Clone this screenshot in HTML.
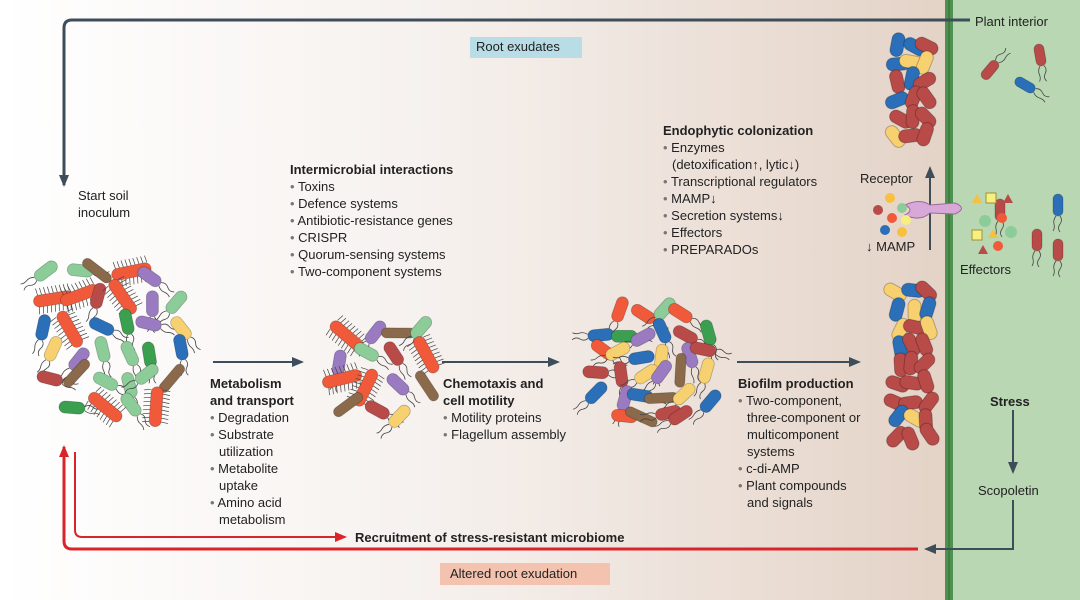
<!DOCTYPE html>
<html><head><meta charset="utf-8"><style>
body{margin:0;width:1080px;height:600px;overflow:hidden;font-family:"Liberation Sans",sans-serif;color:#222;}
#bg{position:absolute;left:0;top:0;width:1080px;height:600px;background:linear-gradient(90deg,#ffffff 0%,#f6f1ee 40%,#e4d3c7 87%);}
.t{position:absolute;font-size:13px;line-height:17px;white-space:nowrap;}
.b{font-weight:bold;}
.li:before{content:"• ";color:#777;}
.ind{padding-left:9px;}
svg{position:absolute;left:0;top:0;}
</style></head><body>
<div id="bg"></div>
<svg id="s" width="1080" height="600">
<defs>
<marker id="ag" markerUnits="userSpaceOnUse" markerWidth="12" markerHeight="10" refX="10" refY="5" orient="auto"><path d="M0,0 L12,5 L0,10z" fill="#3d4d5a"/></marker>
<marker id="ar" markerUnits="userSpaceOnUse" markerWidth="12" markerHeight="10" refX="10" refY="5" orient="auto"><path d="M0,0 L12,5 L0,10z" fill="#d9252a"/></marker>
</defs>
<rect x="948" y="0" width="132" height="600" fill="#b9d7b2"/>
<rect x="945" y="0" width="8" height="600" fill="#4f9150"/>
<line x1="949" y1="0" x2="949" y2="600" stroke="#2e6e33" stroke-width="1"/>
<path d="M970,20 H72 Q64,20 64,28 V185" fill="none" stroke="#3d4d5a" stroke-width="3" marker-end="url(#ag)"/>
<rect x="470" y="37" width="112" height="21" fill="#b9dde6"/>
<line x1="213" y1="362" x2="302" y2="362" stroke="#3d4d5a" stroke-width="2" marker-end="url(#ag)"/>
<line x1="442" y1="362" x2="558" y2="362" stroke="#3d4d5a" stroke-width="2" marker-end="url(#ag)"/>
<line x1="737" y1="362" x2="859" y2="362" stroke="#3d4d5a" stroke-width="2" marker-end="url(#ag)"/>
<line x1="930" y1="250" x2="930" y2="168" stroke="#3d4d5a" stroke-width="2" marker-end="url(#ag)"/>
<line x1="1013" y1="410" x2="1013" y2="472" stroke="#3d4d5a" stroke-width="2" marker-end="url(#ag)"/>
<path d="M1013,500 V549 H926" fill="none" stroke="#3d4d5a" stroke-width="2" marker-end="url(#ag)"/>
<path d="M918,549 H72 Q64,549 64,541 V447" fill="none" stroke="#d9252a" stroke-width="3" marker-end="url(#ar)"/>
<path d="M75,452 V530 Q75,537 82,537 H345" fill="none" stroke="#d9252a" stroke-width="2" marker-end="url(#ar)"/>
<rect x="440" y="563" width="170" height="22" fill="#f4c3b0"/>
<path d="M905,205 Q920,198 930,205 L955,203 Q968,208 955,214 L930,213 Q920,222 905,215 Q915,210 905,205z" fill="#d8a8d8" stroke="#9a6a9a" stroke-width="1"/>
<g id="b"></g>
</svg>
<div class="t" style="left:476px;top:38px">Root exudates</div>
<div class="t" style="left:450px;top:565px">Altered root exudation</div>
<div class="t" style="left:975px;top:13px">Plant interior</div>
<div class="t" style="left:78px;top:187px">Start soil<br>inoculum</div>
<div class="t" style="left:290px;top:161px"><span class="b">Intermicrobial interactions</span><br><span class="li">Toxins</span><br><span class="li">Defence systems</span><br><span class="li">Antibiotic-resistance genes</span><br><span class="li">CRISPR</span><br><span class="li">Quorum-sensing systems</span><br><span class="li">Two-component systems</span></div>
<div class="t" style="left:210px;top:375px"><span class="b">Metabolism<br>and transport</span><br><span class="li">Degradation</span><br><span class="li">Substrate</span><br><span class="ind">utilization</span><br><span class="li">Metabolite</span><br><span class="ind">uptake</span><br><span class="li">Amino acid</span><br><span class="ind">metabolism</span></div>
<div class="t" style="left:443px;top:375px"><span class="b">Chemotaxis and<br>cell motility</span><br><span class="li">Motility proteins</span><br><span class="li">Flagellum assembly</span></div>
<div class="t" style="left:738px;top:375px"><span class="b">Biofilm production</span><br><span class="li">Two-component,</span><br><span class="ind">three-component or</span><br><span class="ind">multicomponent</span><br><span class="ind">systems</span><br><span class="li">c-di-AMP</span><br><span class="li">Plant compounds</span><br><span class="ind">and signals</span></div>
<div class="t" style="left:663px;top:122px"><span class="b">Endophytic colonization</span><br><span class="li">Enzymes</span><br><span class="ind">(detoxification↑, lytic↓)</span><br><span class="li">Transcriptional regulators</span><br><span class="li">MAMP↓</span><br><span class="li">Secretion systems↓</span><br><span class="li">Effectors</span><br><span class="li">PREPARADOs</span></div>
<div class="t" style="left:860px;top:170px">Receptor</div>
<div class="t" style="left:866px;top:238px">↓ MAMP</div>
<div class="t" style="left:960px;top:261px">Effectors</div>
<div class="t b" style="left:990px;top:393px">Stress</div>
<div class="t" style="left:978px;top:482px">Scopoletin</div>
<div class="t b" style="left:355px;top:529px">Recruitment of stress-resistant microbiome</div>
<script>
var g=document.getElementById('b'),NS="http://www.w3.org/2000/svg";
var seed=12345;function r(){seed=(seed*16807)%2147483647;return seed/2147483647;}
for(var i=0;i<10;i++)r();
function add(tag,at,p){var e=document.createElementNS(NS,tag);for(var k in at)e.setAttribute(k,at[k]);(p||g).appendChild(e);return e;}
var C=['#2a6fb8','#3aa050','#8ccc98','#f7d070','#9a7ac0','#b84a48','#8a6a4a','#f05a3a'];
function bac(x,y,a,c,L,W,hair){
 var e=add('g',{transform:'translate('+x+','+y+') rotate('+a+')'});
 if(hair){for(var i=-L/2+3;i<L/2-2;i+=4){add('line',{x1:i,y1:-W/2,x2:i+1,y2:-(W/2+7),stroke:'#444','stroke-width':0.7},e);add('line',{x1:i,y1:W/2,x2:i+1,y2:W/2+7,stroke:'#444','stroke-width':0.7},e);}}
 else if(c!='#8a6a4a'){add('path',{d:'M'+(L/2)+',-2 q4,-3 8,0 t8,0 M'+(L/2)+',2 q4,3 8,2 t7,1',stroke:'#444',fill:'none','stroke-width':0.8},e);}
 add('rect',{x:-L/2,y:-W/2,width:L,height:W,rx:W/2,fill:c,stroke:'rgba(0,0,0,0.25)','stroke-width':0.8},e);
}
function cluster(cx,cy,R,sp,big){
 for(var y=cy-R;y<=cy+R;y+=sp)for(var x=cx-R;x<=cx+R;x+=sp){
  var dx=x-cx,dy=y-cy;if(dx*dx+dy*dy>R*R)continue;
  var px=x+(r()-0.5)*sp*0.5,py=y+(r()-0.5)*sp*0.5;
  var k=Math.floor(r()*8),c=C[k];
  if(k==7&&big) bac(px,py,r()*180,c,40,12,true);
  else if(k==6) bac(px,py,r()*180,c,34,10,false);
  else bac(px,py,r()*180,c,26,12,false);}
}
cluster(108,335,86,26,true);
cluster(378,363,60,27,true);
cluster(652,363,72,21,false);
function film(x0,y0,w,h,sp){for(var y=y0;y<=y0+h;y+=sp)for(var x=x0;x<=x0+w;x+=sp*0.8){var px=x+(r()-0.5)*6,py=y+(r()-0.5)*6;var q=r();var c=q<0.55?'#b84a48':(q<0.8?'#f7d070':'#2a6fb8');add('rect',{transform:'translate('+px+','+py+') rotate('+(r()*180)+')',x:-12,y:-6.5,width:24,height:13,rx:6.5,fill:c,stroke:'rgba(0,0,0,0.25)'});}}
film(898,45,38,100,18);film(898,292,38,145,18);
[[990,70,-50,'#b84a48'],[1040,55,80,'#b84a48'],[1025,85,30,'#2a6fb8'],[1000,210,90,'#b84a48'],[1058,205,90,'#2a6fb8'],[1037,240,90,'#b84a48'],[1058,250,90,'#b84a48']].forEach(function(a){bac(a[0],a[1],a[2],a[3],22,10,false);});
[[890,198,'#f7c040'],[902,208,'#8ccc98'],[878,210,'#b84a48'],[892,218,'#f05a3a'],[906,220,'#f7f080'],[885,230,'#2a6fb8'],[902,232,'#f7c040'],[1002,218,'#f05a3a'],[998,246,'#f05a3a']].forEach(function(a){add('circle',{cx:a[0],cy:a[1],r:5,fill:a[2]});});
add('rect',{x:986,y:193,width:10,height:10,fill:'#f7f080',stroke:'#a09030'});add('rect',{x:972,y:230,width:10,height:10,fill:'#f7f080',stroke:'#a09030'});
add('path',{d:'M972,203 l5,-9 l5,9z',fill:'#f7c040'});add('path',{d:'M1003,203 l5,-9 l5,9z',fill:'#b84a48'});add('path',{d:'M988,238 l5,-9 l5,9z',fill:'#f7c040'});add('path',{d:'M978,254 l5,-9 l5,9z',fill:'#b84a48'});
add('circle',{cx:985,cy:221,r:6,fill:'#8ccc98'});add('circle',{cx:1011,cy:232,r:6,fill:'#8ccc98'});
</script>
</body></html>
